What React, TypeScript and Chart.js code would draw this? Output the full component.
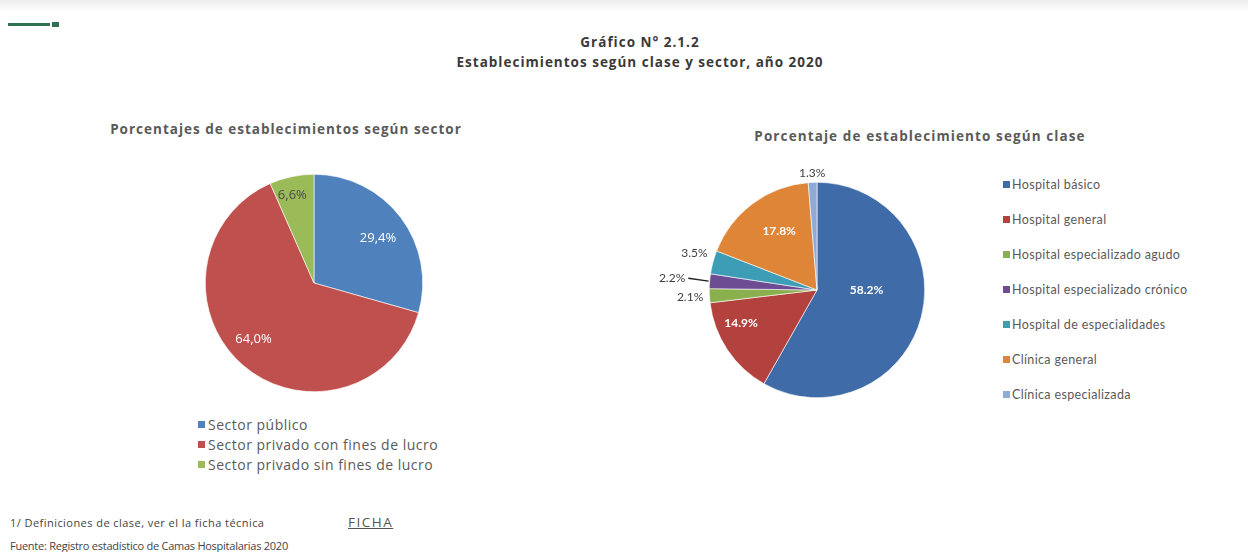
import React, { useEffect, useRef } from "react";
import { Chart, registerables } from "chart.js";

Chart.register(...registerables);

// ---------- data ----------
const sectorLabels = [
  "Sector público",
  "Sector privado con fines de lucro",
  "Sector privado sin fines de lucro",
];
const sectorValues = [29.4, 64.0, 6.6];
const sectorColors = ["#4F81BD", "#C0504D", "#9BBB59"];

const claseLabels = [
  "Hospital básico",
  "Hospital general",
  "Hospital especializado agudo",
  "Hospital especializado crónico",
  "Hospital de especialidades",
  "Clínica general",
  "Clínica especializada",
];
const claseValues = [58.2, 14.9, 2.1, 2.2, 3.5, 17.8, 1.3];
const claseColors = ["#3F6CA8", "#B3413E", "#8AB04E", "#6E4C94", "#3D9DB6", "#DE8537", "#8FAAD4"];

// label placement (radius in units of R, angle tweak in degrees)
const sectorPlacement = [
  { r: 0.72, da: 2, color: "#ffffff" },
  { r: 0.76, da: 6, color: "#ffffff" },
  { r: 0.83, da: -2, color: "#4a4a4a" },
];
const clasePlacement = [
  { r: 0.46, da: -15, color: "#ffffff" },
  { r: 0.77, da: 10, color: "#ffffff" },
  { r: 1.18, da: 0, color: "#404040" },
  { r: 1.35, da: 0, color: "#404040", leader: true },
  { r: 1.19, da: 2, color: "#404040" },
  { r: 0.65, da: 4, color: "#ffffff" },
  { r: 1.09, da: 0, color: "#404040" },
];

const sliceLabelPlugin = {
  id: "sliceLabels",
  afterDatasetsDraw(chart: any, _args: any, opts: any) {
    const ctx = chart.ctx;
    const meta = chart.getDatasetMeta(0);
    const values = chart.data.datasets[0].data;
    ctx.save();
    meta.data.forEach((arc: any, i: number) => {
      const { x, y, startAngle, endAngle, outerRadius } = arc.getProps(
        ["x", "y", "startAngle", "endAngle", "outerRadius"],
        true
      );
      const p = opts.placement[i];
      const mid = (startAngle + endAngle) / 2;
      const a = mid + (p.da * Math.PI) / 180;
      const tx = x + Math.cos(a) * outerRadius * p.r;
      const ty = y + Math.sin(a) * outerRadius * p.r;
      const text = opts.format(values[i]);
      ctx.font = p.r < 1 ? opts.insideFont : opts.outsideFont;
      ctx.fillStyle = p.color;
      ctx.textAlign = "center";
      ctx.textBaseline = "middle";
      ctx.fillText(text, tx, ty);
      if (p.leader) {
        const w = ctx.measureText(text).width;
        ctx.strokeStyle = "#222";
        ctx.lineWidth = 1.5;
        ctx.beginPath();
        ctx.moveTo(tx + w / 2 + 3, ty);
        ctx.lineTo(x + Math.cos(mid) * outerRadius * 1.01, y + Math.sin(mid) * outerRadius * 1.01);
        ctx.stroke();
      }
    });
    ctx.restore();
  },
};

type PieProps = {
  labels: string[];
  values: number[];
  colors: string[];
  placement: any[];
  format: (v: number) => string;
  insideFont: string;
  outsideFont: string;
  box: { left: number; top: number; width: number; height: number };
  cx: number;
  cy: number;
  R: number;
};

function Pie(props: PieProps) {
  const ref = useRef<HTMLCanvasElement>(null);
  useEffect(() => {
    const { box, cx, cy, R } = props;
    const chart = new Chart(ref.current!, {
      type: "pie",
      data: {
        labels: props.labels,
        datasets: [
          {
            data: props.values,
            backgroundColor: props.colors,
            borderColor: "#ffffff",
            borderWidth: 0.6,
            hoverOffset: 0,
            offset: 0,
          },
        ],
      },
      options: {
        animation: false,
        responsive: false,
        events: [],
        layout: {
          padding: {
            left: cx - R - box.left,
            right: box.left + box.width - (cx + R),
            top: cy - R - box.top,
            bottom: box.top + box.height - (cy + R),
          },
        },
        plugins: {
          legend: { display: false },
          tooltip: { enabled: false },
          sliceLabels: {
            placement: props.placement,
            format: props.format,
            insideFont: props.insideFont,
            outsideFont: props.outsideFont,
          },
        } as any,
      },
      plugins: [sliceLabelPlugin],
    });
    return () => chart.destroy();
  }, []);
  const { box } = props;
  return (
    <canvas
      ref={ref}
      width={box.width}
      height={box.height}
      style={{ position: "absolute", left: box.left, top: box.top, width: box.width, height: box.height }}
    />
  );
}

const gothic = "'Open Sans', 'DejaVu Sans', sans-serif";
const calibri = "Lato, 'Open Sans', sans-serif";

export default function App() {
  return (
    <div
      style={{
        position: "fixed",
        left: 0,
        top: 0,
        width: 1248,
        height: 552,
        background: "#ffffff",
        overflow: "hidden",
        fontFamily: gothic,
      }}
    >
      <div
        style={{
          position: "absolute",
          left: 0,
          top: 0,
          width: 1248,
          height: 12,
          background: "linear-gradient(#ededed, #ffffff)",
        }}
      />
      <div style={{ position: "absolute", left: 8, top: 23, width: 42, height: 3, background: "#2f7150" }} />
      <div style={{ position: "absolute", left: 52, top: 22, width: 7, height: 5, background: "#2f7150" }} />

      <div
        style={{
          position: "absolute",
          left: 0,
          width: 1280,
          top: 32,
          textAlign: "center",
          fontWeight: 700,
          fontSize: 13.5,
          letterSpacing: 1,
          lineHeight: "20px",
          color: "#3a3a3a",
        }}
      >
        <div>Gráfico N° 2.1.2</div>
        <div>Establecimientos según clase y sector, año 2020</div>
      </div>

      <div
        style={{
          position: "absolute",
          left: 86,
          width: 400,
          top: 120,
          textAlign: "center",
          fontWeight: 700,
          fontSize: 13.5,
          letterSpacing: 1,
          color: "#5a5a5a",
        }}
      >
        Porcentajes de establecimientos según sector
      </div>
      <div
        style={{
          position: "absolute",
          left: 720,
          width: 400,
          top: 127,
          textAlign: "center",
          fontWeight: 700,
          fontSize: 13.5,
          letterSpacing: 1.1,
          color: "#5a5a5a",
        }}
      >
        Porcentaje de establecimiento según clase
      </div>

      <Pie
        labels={sectorLabels}
        values={sectorValues}
        colors={sectorColors}
        placement={sectorPlacement}
        format={(v) => v.toFixed(1).replace(".", ",") + "%"}
        insideFont={"13px " + gothic}
        outsideFont={"13px " + gothic}
        box={{ left: 180, top: 160, width: 280, height: 250 }}
        cx={314}
        cy={283}
        R={109}
      />
      <Pie
        labels={claseLabels}
        values={claseValues}
        colors={claseColors}
        placement={clasePlacement}
        format={(v) => v.toFixed(1) + "%"}
        insideFont={"bold 12px " + calibri}
        outsideFont={"12px " + calibri}
        box={{ left: 640, top: 150, width: 320, height: 270 }}
        cx={817}
        cy={290}
        R={108}
      />

      {sectorLabels.map((l, i) => (
        <div
          key={l}
          style={{
            position: "absolute",
            left: 198,
            top: 414 + i * 20,
            height: 20,
            display: "flex",
            alignItems: "center",
            fontSize: 14,
            letterSpacing: 0.5,
            color: "#5a5a5a",
            whiteSpace: "nowrap",
          }}
        >
          <span style={{ width: 7, height: 7, background: sectorColors[i], marginRight: 3 }} />
          {l}
        </div>
      ))}

      {claseLabels.map((l, i) => (
        <div
          key={l}
          style={{
            position: "absolute",
            left: 1003,
            top: 174 + i * 35,
            height: 20,
            display: "flex",
            alignItems: "center",
            fontSize: 12.5,
            fontFamily: calibri,
            letterSpacing: 0.35,
            color: "#5a5a5a",
            whiteSpace: "nowrap",
          }}
        >
          <span style={{ width: 7, height: 7, background: claseColors[i], marginRight: 2 }} />
          {l}
        </div>
      ))}

      <div
        style={{
          position: "absolute",
          left: 10,
          top: 515,
          fontSize: 11,
          letterSpacing: 0.45,
          color: "#444",
          whiteSpace: "nowrap",
        }}
      >
        1/ Definiciones de clase, ver el la ficha técnica
      </div>
      <div
        style={{
          position: "absolute",
          left: 348,
          top: 513,
          fontSize: 13.5,
          letterSpacing: 1.5,
          color: "#555",
          textDecoration: "underline",
        }}
      >
        FICHA
      </div>
      <div
        style={{
          position: "absolute",
          left: 10,
          top: 538,
          fontSize: 11,
          letterSpacing: -0.25,
          color: "#444",
          whiteSpace: "nowrap",
        }}
      >
        Fuente: Registro estadístico de Camas Hospitalarias 2020
      </div>
    </div>
  );
}
